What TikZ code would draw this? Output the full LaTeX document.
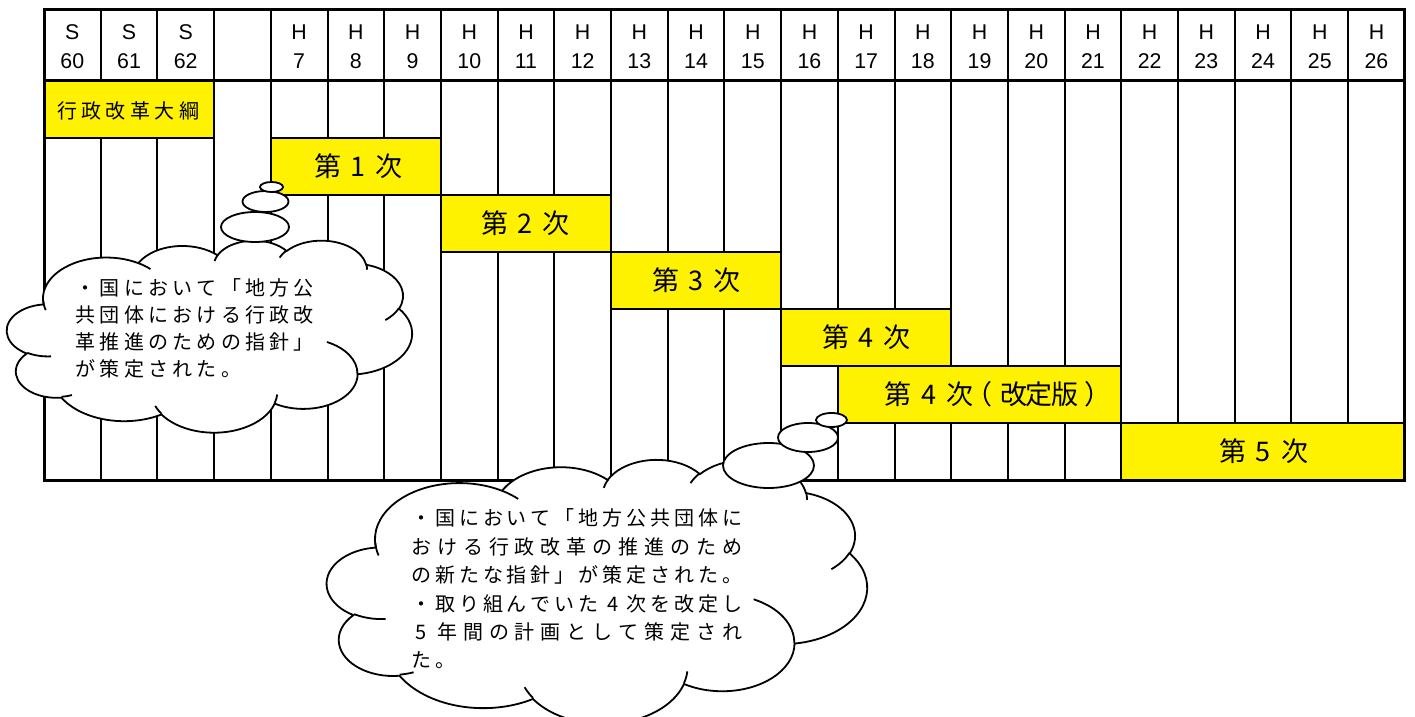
\documentclass[tikz,border=0pt]{standalone}
\usepackage{fontspec}
\setmainfont{Liberation Sans}
\newfontfamily\jp{Noto Sans CJK JP}
\newlength\cellw
\def\sprA#1#2\relax{\makebox[\cellw]{#1}\sprB#2\relax}
\def\sprB#1{\ifx#1\relax\else\hfil\makebox[\cellw]{#1}\expandafter\sprB\fi}
\newcommand\jl[3]{\setlength\cellw{#1}\hbox to #2{\sprA#3\relax}}
\newcommand\oa[4]{arc[start angle={pa(#3,#1,#2)}, delta angle={pd(#3,#4,#1,#2)}, x radius=#1, y radius=#2]}
\newcommand\cloudshape[4]{%
\begin{scope}[shift={(#1,#2)}, x={({#3*0.75pt/43.2},0pt)}, y={(0pt,{-#4*0.75pt/43.2})}]
\draw[cloudline, fill=white] (3.900,14.370) \oa{6.753}{9.190}{-190.4875}{123.7805} \oa{5.333}{7.267}{-144.1024}{89.9452} \oa{4.365}{5.945}{-145.8079}{99.7230} \oa{4.857}{6.595}{-130.9861}{117.2417} \oa{5.333}{7.273}{-78.7089}{109.0269} \oa{6.775}{9.220}{-46.2673}{130.2690} \oa{5.785}{7.867}{0.6250}{114.0333} \oa{6.752}{9.215}{22.4516}{115.1726} \oa{7.720}{10.543}{66.2426}{75.7110} \oa{4.360}{5.918}{-274.9421}{146.7356} \oa{4.345}{5.945}{-246.8285}{152.5189} -- cycle;
\draw[cloudline] (4.693,26.177) \oa{4.345}{5.945}{86.7420}{26.4295}
 (6.928,34.899) \oa{4.360}{5.918}{73.6105}{11.4475}
 (16.478,39.090) \oa{6.752}{9.215}{137.6242}{14.0811}
 (28.827,34.751) \oa{6.752}{9.215}{6.4533}{15.9984}
 (34.129,22.954) \oa{5.785}{7.867}{-70.2924}{70.9174}
 (41.798,15.354) \oa{5.333}{7.273}{30.3180}{27.7515}
 (38.324,5.426) \oa{4.857}{6.595}{-13.7443}{14.8589}
 (29.078,3.952) \oa{4.857}{6.595}{-149.1815}{18.1954}
 (22.141,4.720) \oa{4.365}{5.945}{-163.4943}{17.6864}
 (14.000,5.192) \oa{6.753}{9.190}{-66.7070}{12.3194}
 (4.127,15.789) \oa{6.753}{9.190}{158.3483}{17.0697};
\end{scope}}
\tikzset{
 gridln/.style={line width=1.5pt},
 framel/.style={line width=2.25pt},
 barbox/.style={fill=yellow, draw=black, line width=1.5pt},
 cloudline/.style={draw=black, line width=1.35pt},
 hdr/.style={inner sep=0pt, font=\fontsize{16}{19}\selectfont},
 hdrjp/.style={inner sep=0pt, font=\jp\fontsize{15}{18}\selectfont},
 barlbl/.style={inner sep=0pt, font=\jp\fontsize{20.25}{24}\selectfont},
 ctext/.style={inner sep=0pt, anchor=west, font=\jp\fontsize{15}{18}\selectfont},
}
\begin{document}
\begin{tikzpicture}[x=0.75pt, y=-0.75pt,
  declare function={pa(\a,\w,\h)=atan2(\w*sin(\a),\h*cos(\a));
    pdl(\a,\d,\w,\h)=pa(\a+\d,\w,\h)-pa(\a,\w,\h);
    pd(\a,\d,\w,\h)=pdl(\a,\d,\w,\h)+360*round((\d-pdl(\a,\d,\w,\h))/360);}]
\useasboundingbox (0,0) rectangle (1415,717);
\fill[white] (0,0) rectangle (1415,717);
% vertical grid lines
\foreach \i in {1,...,23}
  \draw[gridln] ({44+56.7*\i},9.5) -- ({44+56.7*\i},480);
% bars
\draw[barbox] (44,81) rectangle (214.1,138);
\draw[barbox] (270.8,138) rectangle (440.9,195);
\draw[barbox] (440.9,195) rectangle (611,252);
\draw[barbox] (611,252) rectangle (781.1,309);
\draw[barbox] (781.1,309) rectangle (951.2,366);
\draw[barbox] (837.8,366) rectangle (1121,423);
\draw[barbox] (1121,423) rectangle (1404.8,480);
% frame and header line
\draw[framel] (44,9.5) rectangle (1404.8,480);
\draw[framel] (44,81) -- (1404.8,81);
% header labels
\foreach \i/\a/\b in {0/S/60,1/S/61,2/S/62,4/H/7,5/H/8,6/H/9,7/H/10,8/H/11,9/H/12,10/H/13,11/H/14,12/H/15,13/H/16,14/H/17,15/H/18,16/H/19,17/H/20,18/H/21,19/H/22,20/H/23,21/H/24,22/H/25,23/H/26}{
  \node[hdr] (era\i) at ({72.35+56.7*\i},32.5) {\a};
  \node[hdr] (yr\i) at ({72.35+56.7*\i},61) {\b};
}
% bar labels
\node[hdrjp] (l0) at (128,111) {\jl{15pt}{106.5pt}{行政改革大綱}};
\node[barlbl] (l1) at (358.5,166.5) {\jl{20.25pt}{66.75pt}{第1次}};
\node[barlbl] (l2) at (525.5,223.5) {\jl{20.25pt}{66.75pt}{第2次}};
\node[barlbl] (l3) at (696.5,280.5) {\jl{20.25pt}{66.75pt}{第3次}};
\node[barlbl] (l4) at (866.5,337.5) {\jl{20.25pt}{66.75pt}{第4次}};
\node[barlbl, anchor=west] (l5) at (884,394.5) {\jl{20.25pt}{66.75pt}{第4次}};
\node[barlbl, anchor=west] (l5a) at (965.6,394.5) {（};
\node[barlbl] (l5b) at (1039,394.5) {\jl{19.125pt}{57.375pt}{改定版}};
\node[barlbl, anchor=west] (l5c) at (1084.4,394.5) {）};
\node[barlbl] (l6) at (1263.5,451.5) {\jl{20.25pt}{66.75pt}{第5次}};
% clouds
\cloudshape{7}{240}{405}{192}
\cloudshape{327}{459}{540}{264}
% tails
\draw[cloudline, fill=white] (255,227) ellipse [x radius=34, y radius=15];
\draw[cloudline, fill=white] (265.5,201.5) ellipse [x radius=23, y radius=10.5];
\draw[cloudline, fill=white] (271.5,187) ellipse [x radius=11.5, y radius=5];
\draw[cloudline, fill=white] (768.5,465.5) ellipse [x radius=45.5, y radius=22.5];
\draw[cloudline, fill=white] (808,437.5) ellipse [x radius=30, y radius=14.5];
\draw[cloudline, fill=white] (831.5,420) ellipse [x radius=15.5, y radius=7];
% cloud texts
\node[ctext] (c1a) at (75.5,288) {\jl{15pt}{178.5pt}{・国において「地方公}};
\node[ctext] (c1b) at (75.5,315) {\jl{15pt}{178.5pt}{共団体における行政改}};
\node[ctext] (c1c) at (75.5,342) {\jl{15pt}{178.5pt}{革推進のための指針」}};
\node[ctext] (c1d) at (75.5,369) {\jl{15pt}{124pt}{が策定された。}};
\node[ctext] (c2a) at (411,518) {\jl{15pt}{248.25pt}{・国において「地方公共団体に}};
\node[ctext] (c2b) at (411,546.5) {\jl{15pt}{248.25pt}{おける行政改革の推進のため}};
\node[ctext] (c2c) at (411,575) {\jl{15pt}{248.25pt}{の新たな指針」が策定された。}};
\node[ctext] (c2d) at (411,603.5) {\jl{15pt}{248.25pt}{・取り組んでいた4次を改定し}};
\node[ctext] (c2e) at (411,632) {\jl{15pt}{248.25pt}{5年間の計画として策定され}};
\node[ctext] (c2f) at (411,660.5) {\jl{15pt}{32.9pt}{た。}};
\end{tikzpicture}
\end{document}
